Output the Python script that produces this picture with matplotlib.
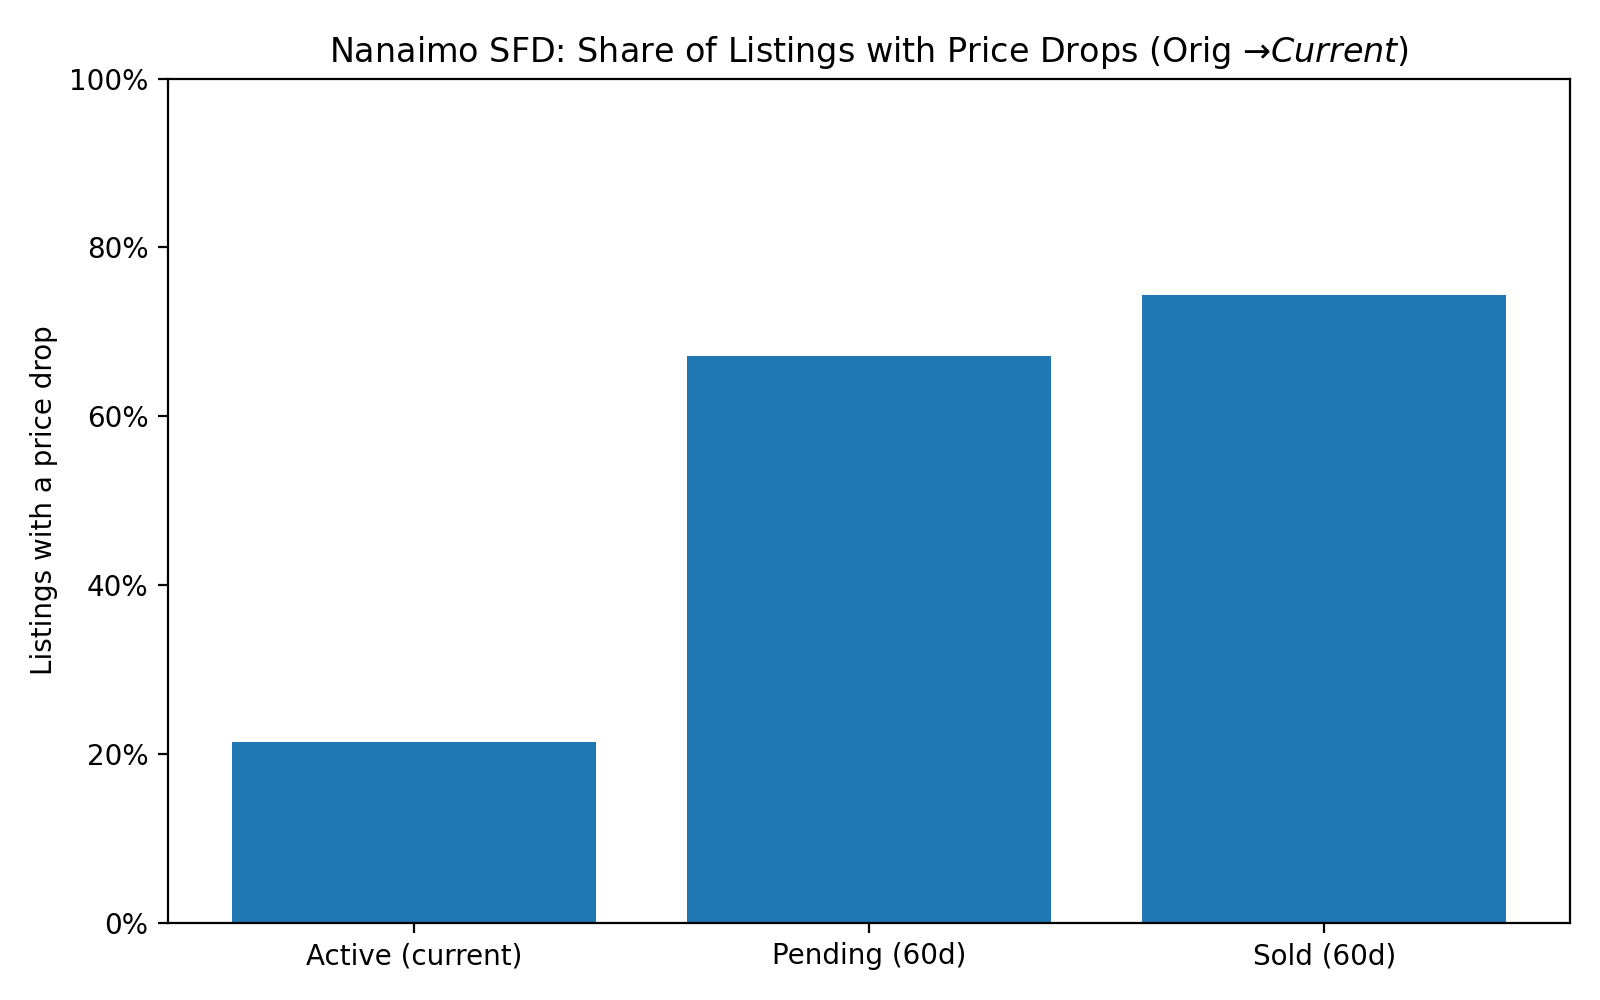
import matplotlib
matplotlib.use("Agg")
import matplotlib.pyplot as plt
from matplotlib.ticker import PercentFormatter

categories = ["Active (current)", "Pending (60d)", "Sold (60d)"]
share_dropped = [21.4, 67.1, 74.4]

fig, ax = plt.subplots(figsize=(8, 5), dpi=200)
ax.bar(categories, share_dropped, color="#1f77b4")
ax.set_ylim(0, 100)
ax.yaxis.set_major_formatter(PercentFormatter(100, decimals=0))
ax.set_ylabel("Listings with a price drop")
ax.set_title("Nanaimo SFD: Share of Listings with Price Drops (Orig →$Current$)")
fig.tight_layout()
# nudge the top down a touch to match the reference spacing
fig.subplots_adjust(top=fig.subplotpars.top - 0.004)
fig.savefig("out.png")
